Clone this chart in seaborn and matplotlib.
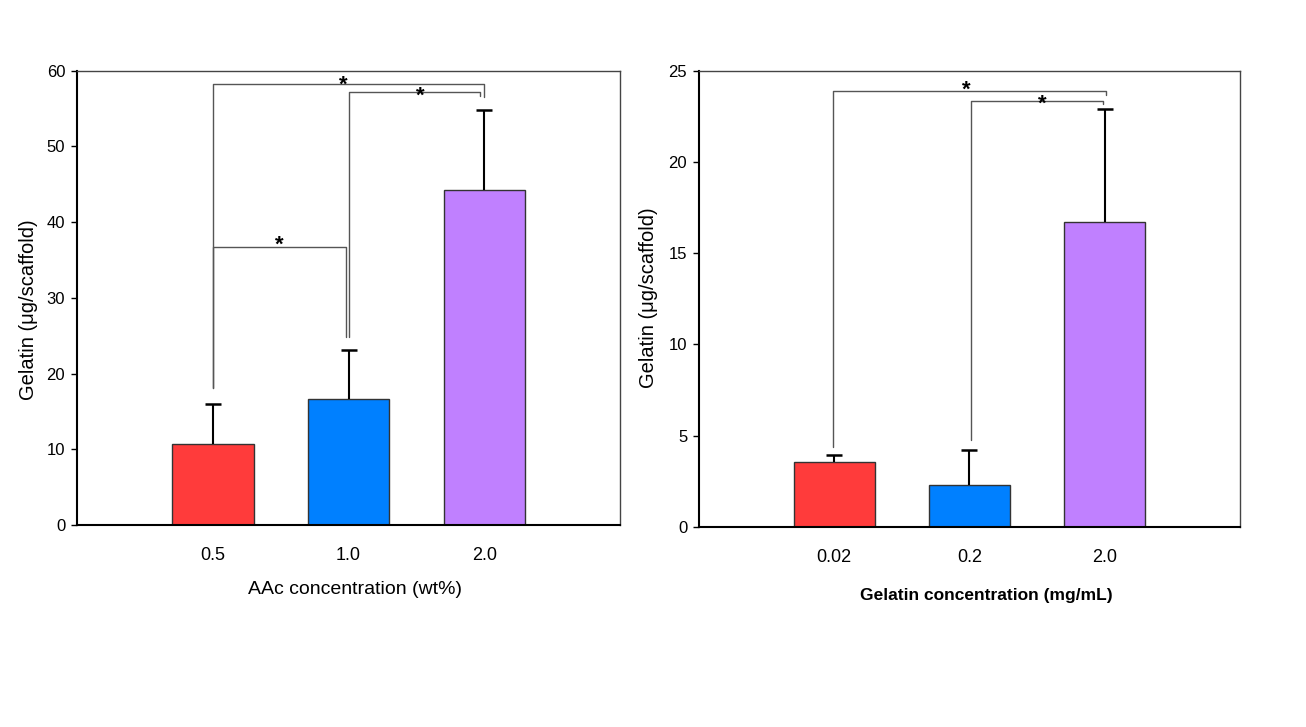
import pandas as pd
import matplotlib
matplotlib.use("Agg")
import matplotlib.pyplot as plt
import seaborn as sns

# Left panel: AAc concentration
aac_levels = ["0.5", "1.0", "2.0"]
aac_gelatin = [10.7, 16.6, 44.3]
aac_err = [5.3, 6.5, 10.5]

# Right panel: gelatin concentration
gel_levels = ["0.02", "0.2", "2.0"]
gel_gelatin = [3.56, 2.27, 16.7]
gel_err = [0.37, 1.92, 6.2]

bar_colors = ["#FF3B3B", "#0080FF", "#C080FF"]

# significance brackets: (x_left, x_right, y_bar, y_left_end, y_right_end, star_x, star_y)
aac_brackets = [
    (0.0, 2.0, 58.2, 18.1, 56.5, 0.96, 59.0),
    (1.0, 1.97, 57.2, 24.8, 56.6, 1.53, 57.6),
    (0.0, 0.98, 36.7, 18.1, 24.8, 0.49, 37.9),
]
gel_brackets = [
    (-0.01, 2.01, 23.87, 4.38, 23.65, 0.98, 24.3),
    (1.01, 1.985, 23.33, 4.75, 23.2, 1.54, 23.55),
]

sns.set_style("ticks")
plt.rcParams['font.family'] = ['Liberation Sans', 'DejaVu Sans']
plt.rcParams['text.color'] = 'black'
plt.rcParams['axes.labelcolor'] = 'black'
plt.rcParams['xtick.color'] = 'black'
plt.rcParams['ytick.color'] = 'black'

fig = plt.figure(figsize=(13.06, 7.27), dpi=100)
ax1 = fig.add_axes([0.0590, 0.2779, 0.4158, 0.6249])
ax2 = fig.add_axes([0.5352, 0.2755, 0.4142, 0.6272])


def draw_panel(ax, levels, values, errs, brackets, ymax, ystep):
    df = pd.DataFrame({"conc": levels, "gelatin": values})
    sns.barplot(data=df, x="conc", y="gelatin", hue="conc", palette=bar_colors,
                order=levels, width=0.6, edgecolor="#333333", linewidth=1,
                saturation=1, legend=False, ax=ax)
    xs = list(range(len(levels)))
    tops = [v + e for v, e in zip(values, errs)]
    # upward-only error bars with a single cap
    ax.errorbar(xs, values, yerr=[[0] * len(errs), errs], fmt="none",
                ecolor="black", elinewidth=1.5, capsize=0, zorder=3)
    ax.plot(xs, tops, ls="none", marker="_", markersize=11, mew=1.8,
            color="black", zorder=3)
    for x0, x1, yb, yl, yr, sx, sy in brackets:
        ax.plot([x0, x0, x1, x1], [yl, yb, yb, yr], color="#555555", lw=1, zorder=2)
        ax.annotate("*", (sx, sy), xytext=(0, -9), textcoords="offset points",
                    ha="center", va="baseline", fontsize=16, fontweight="bold")
    ax.set_xlim(-1, 3)
    ax.set_ylim(0, ymax)
    ax.set_yticks(range(0, ymax + 1, ystep))
    ax.tick_params(axis="y", labelsize=12, length=4, width=1, pad=4.5)
    ax.tick_params(axis="x", labelsize=13, length=0, pad=16)
    for side in ["left", "bottom"]:
        ax.spines[side].set_color("black")
        ax.spines[side].set_linewidth(1.5)
    for side in ["top", "right"]:
        ax.spines[side].set_visible(True)
        ax.spines[side].set_color("#444444")
        ax.spines[side].set_linewidth(1)


draw_panel(ax1, aac_levels, aac_gelatin, aac_err, aac_brackets, 60, 10)
draw_panel(ax2, gel_levels, gel_gelatin, gel_err, gel_brackets, 25, 5)

ax1.set_xlabel("AAc concentration (wt%)", fontsize=14)
ax1.set_ylabel("Gelatin (\u03bcg/scaffold)", fontsize=14.5)
ax1.xaxis.set_label_coords(0.512, -0.143)
ax1.yaxis.set_label_coords(-0.090, 0.473)

ax2.set_xlabel("Gelatin concentration (mg/mL)", fontsize=12.5, fontweight="bold")
ax2.set_ylabel("Gelatin (\u03bcg/scaffold)", fontsize=14.5)
ax2.xaxis.set_label_coords(0.532, -0.150)
ax2.yaxis.set_label_coords(-0.094, 0.5015)

for ax in [ax1, ax2]:
    ax.xaxis.label.set_va("center")
    ax.yaxis.label.set_va("center")

plt.savefig("out.png", dpi=100, facecolor="white")
plt.close()
